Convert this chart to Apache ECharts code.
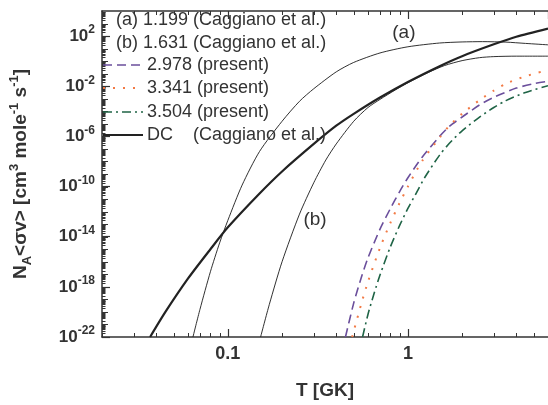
<!DOCTYPE html>
<html>
<head>
<meta charset="utf-8">
<script src="https://cdn.jsdelivr.net/npm/echarts@6/dist/echarts.min.js"></script>
<style>
  html, body { margin: 0; padding: 0; background: #fff; }
  #chart { width: 548px; height: 405px; }
</style>
</head>
<body>
<div id="chart"></div>
<script>
// Temperature T [GK] and reaction rate N_A<σv> [cm^3 mole^-1 s^-1] for each curve

// (a) resonance at 1.199 (Caggiano et al.)
const tempA = [0.064, 0.07, 0.08, 0.09, 0.1, 0.12, 0.15, 0.2, 0.25, 0.3, 0.4, 0.5, 0.7, 1.0, 1.5, 2.0, 2.6, 3.5, 4.5, 6.0];
const rateA = [1e-22, 1.6e-20, 1.6e-17, 3.2e-15, 2.0e-13, 1.3e-10, 6.3e-8, 1.6e-5, 6.3e-4, 6.3e-3, 0.14, 0.79, 4.5, 14, 28, 34, 36, 33, 26, 20];

// (b) resonance at 1.631 (Caggiano et al.)
const tempB = [0.152, 0.17, 0.2, 0.25, 0.3, 0.35, 0.4, 0.5, 0.6, 0.7, 0.85, 1.0, 1.3, 1.6, 2.0, 2.5, 3.0, 4.0, 6.0];
const rateB = [1e-22, 4.0e-20, 1.0e-16, 6.3e-13, 2.0e-10, 1.3e-8, 2.5e-7, 1.6e-5, 2.0e-4, 8.9e-4, 5.0e-3, 1.9e-2, 0.126, 0.45, 1.1, 1.9, 2.3, 2.5, 2.5];

// resonance at 2.978 (present)
const temp2978 = [0.45, 0.5, 0.55, 0.6, 0.7, 0.8, 0.9, 1.0, 1.2, 1.5, 1.7, 2.0, 2.5, 3.0, 4.0, 5.0, 6.0];
const rate2978 = [1e-22, 5.0e-20, 5.0e-18, 2.0e-16, 4.0e-14, 1.8e-12, 4.0e-11, 5.0e-10, 2.2e-8, 1.0e-6, 6.3e-6, 3.5e-5, 3.2e-4, 1.3e-3, 7.1e-3, 1.6e-2, 2.5e-2];

// resonance at 3.341 (present)
const temp3341 = [0.49, 0.55, 0.6, 0.7, 0.8, 0.9, 1.0, 1.2, 1.5, 1.7, 2.0, 2.5, 3.0, 3.5, 4.5, 6.0];
const rate3341 = [1e-22, 4.0e-20, 2.5e-18, 1.3e-15, 1.3e-13, 5.0e-12, 1.0e-10, 1.1e-8, 7.9e-7, 7.1e-6, 6.3e-5, 7.9e-4, 4.5e-3, 1.6e-2, 6.3e-2, 0.2];

// resonance at 3.504 (present)
const temp3504 = [0.56, 0.6, 0.65, 0.7, 0.8, 0.9, 1.0, 1.1, 1.25, 1.5, 1.7, 2.0, 2.5, 3.0, 3.5, 4.5, 6.0];
const rate3504 = [1e-22, 6.3e-21, 3.2e-19, 8.9e-18, 1.6e-15, 7.9e-14, 1.8e-12, 2.2e-11, 6.3e-10, 3.2e-8, 2.8e-7, 2.8e-6, 3.5e-5, 2.0e-4, 7.1e-4, 3.2e-3, 1.1e-2];

// direct capture (Caggiano et al.)
const tempDC = [0.037, 0.045, 0.06, 0.08, 0.1, 0.15, 0.2, 0.3, 0.4, 0.5, 0.7, 1.0, 1.5, 2.0, 3.0, 4.0, 6.0];
const rateDC = [1e-22, 1.0e-20, 4.5e-18, 1.0e-15, 5.6e-14, 2.8e-11, 1.6e-9, 2.5e-7, 7.1e-6, 6.3e-5, 1.26e-3, 2.2e-2, 0.4, 2.5, 22, 89, 400];

// legend rows
const legendLabels = [
  '(a) 1.199 (Caggiano et al.)',
  '(b) 1.631 (Caggiano et al.)',
  '2.978 (present)',
  '3.341 (present)',
  '3.504 (present)',
  'DC    (Caggiano et al.)'
];

// curve tags and where they sit (T, rate)
const tagText = ['(a)', '(b)'];
const tagTemp = [0.95, 0.305];
const tagRate = [190, 2.1e-13];

// axis tick labels shown
const xTickLabels = [0.1, 1];
const rateMin = 1e-22, rateMax = 1e4, rateLabelStep = 4; // decades between labelled ticks

const FONT = '"Liberation Sans", Arial, Helvetica, sans-serif';
const INK = '#333333';
const COL_P = '#6b4f9c';
const COL_O = '#f27a45';
const COL_G = '#1f6446';

// the rate axis is laid out in decades (log10 of the rate)
const pairs = (t, r) => t.map((v, i) => [v, Math.log10(r[i])]);

const chart = echarts.init(document.getElementById('chart'), null, { renderer: 'canvas' });

const baseLine = {
  type: 'line', showSymbol: false, symbol: 'none', smooth: 0.25,
  clip: true, animation: false, z: 3
};

const series = [
  Object.assign({}, baseLine, { name: legendLabels[0], data: pairs(tempA, rateA),
    lineStyle: { color: '#1a1a1a', width: 0.9 } }),
  Object.assign({}, baseLine, { name: legendLabels[1], data: pairs(tempB, rateB),
    lineStyle: { color: '#1a1a1a', width: 0.9 } }),
  Object.assign({}, baseLine, { name: legendLabels[2], data: pairs(temp2978, rate2978),
    lineStyle: { color: COL_P, width: 1.6, type: [9, 5] } }),
  Object.assign({}, baseLine, { name: legendLabels[3], data: pairs(temp3341, rate3341),
    lineStyle: { color: COL_O, width: 2, type: [2, 8] } }),
  Object.assign({}, baseLine, { name: legendLabels[4], data: pairs(temp3504, rate3504),
    lineStyle: { color: COL_G, width: 1.6, type: [9, 4, 2, 4] } }),
  Object.assign({}, baseLine, { name: legendLabels[5], data: pairs(tempDC, rateDC),
    lineStyle: { color: '#222222', width: 2.2 } })
];

chart.setOption({
  animation: false,
  backgroundColor: '#ffffff',
  grid: { left: 100, top: 11, right: 0, bottom: 62, containLabel: false },
  xAxis: [
    {
      type: 'log', min: 0.02, max: 6, position: 'bottom',
      name: 'T [GK]', nameLocation: 'middle', nameGap: 44,
      nameTextStyle: { fontSize: 19, fontWeight: 'bold', color: INK, fontFamily: FONT },
      axisLine: { show: true, onZero: false, lineStyle: { color: INK, width: 1.5 } },
      axisTick: { show: true, inside: true, length: 8, lineStyle: { color: INK, width: 1.2 } },
      splitLine: { show: false },
      axisLabel: {
        show: true, margin: 8, fontSize: 18, fontWeight: 'bold', color: INK, fontFamily: FONT,
        showMinLabel: false, showMaxLabel: false,
        formatter: v => {
          const hit = xTickLabels.find(t => Math.abs(Math.log10(v) - Math.log10(t)) < 1e-6);
          return hit === undefined ? '' : String(hit);
        }
      }
    },
    {
      type: 'log', min: 0.02, max: 6, position: 'top',
      axisLine: { show: true, onZero: false, lineStyle: { color: INK, width: 1.5 } },
      axisTick: { show: true, inside: true, length: 8, lineStyle: { color: INK, width: 1.2 } },
      axisLabel: { show: false },
      splitLine: { show: false }
    }
  ],
  yAxis: {
    type: 'value', min: Math.log10(rateMin), max: Math.log10(rateMax), interval: rateLabelStep,
    name: '{n|N}{sub|A}{n|<σv> [cm}{sup|3}{n| mole}{sup|-1}{n| s}{sup|-1}{n|]}',
    nameLocation: 'middle', nameGap: 68, nameRotate: 90,
    nameTextStyle: {
      rich: {
        n: { fontSize: 19, fontWeight: 'bold', color: INK, fontFamily: FONT, lineHeight: 26, verticalAlign: 'middle' },
        sub: { fontSize: 13, fontWeight: 'bold', color: INK, fontFamily: FONT, lineHeight: 13, verticalAlign: 'bottom' },
        sup: { fontSize: 13, fontWeight: 'bold', color: INK, fontFamily: FONT, lineHeight: 13, verticalAlign: 'top' }
      }
    },
    axisLine: { show: true, onZero: false, lineStyle: { color: INK, width: 1.5 } },
    axisTick: { show: true, inside: true, length: 8, lineStyle: { color: INK, width: 1.2 } },
    splitLine: { show: false },
    axisLabel: {
      show: true, margin: 7, showMaxLabel: false,
      formatter: v => '{b|10}{s|' + Math.round(v) + '}',
      rich: {
        b: { fontSize: 17, fontWeight: 'bold', color: INK, fontFamily: FONT, lineHeight: 24, verticalAlign: 'middle' },
        s: { fontSize: 12, fontWeight: 'bold', color: INK, fontFamily: FONT, lineHeight: 12, verticalAlign: 'top' }
      }
    }
  },
  series: series
});

// log-spaced minor ticks, curve tags and the legend
function buildDecorations() {
  const g = [];
  const px = v => chart.convertToPixel({ xAxisIndex: 0 }, v);
  const py = v => chart.convertToPixel({ yAxisIndex: 0 }, Math.log10(v));
  const yBottom = py(rateMin), yTop = py(rateMax), xLeft = px(0.02);
  const tickStyle = { stroke: INK, lineWidth: 1 };

  for (const dec of [0.01, 0.1, 1]) {
    for (let k = 2; k <= 9; k++) {
      const v = k * dec;
      if (v < 0.02 || v > 6.0001) continue;
      const x = Math.round(px(v)) + 0.5;
      g.push({ type: 'line', silent: true, z: 10, shape: { x1: x, y1: yBottom, x2: x, y2: yBottom - 4 }, style: tickStyle });
      g.push({ type: 'line', silent: true, z: 10, shape: { x1: x, y1: yTop, x2: x, y2: yTop + 4 }, style: tickStyle });
    }
  }
  for (let e = -22; e < 4; e++) {
    for (let k = 1; k <= 9; k++) {
      const y = Math.round(py(k * Math.pow(10, e))) + 0.5;
      const len = k === 1 ? 6 : 3.5;
      g.push({ type: 'line', silent: true, z: 10, shape: { x1: xLeft, y1: y, x2: xLeft + len, y2: y }, style: tickStyle });
    }
  }

  tagText.forEach((txt, i) => {
    g.push({ type: 'text', silent: true, z: 20, x: px(tagTemp[i]), y: py(tagRate[i]),
      style: { text: txt, fill: INK, font: '19px ' + FONT, verticalAlign: 'middle', align: 'center' } });
  });

  const rowY = [20, 43, 65, 88, 112, 135];
  const sample = [null, null,
    { stroke: COL_P, lineWidth: 1.6, lineDash: [9, 5] },
    { stroke: COL_O, lineWidth: 2, lineDash: [2, 8] },
    { stroke: COL_G, lineWidth: 1.6, lineDash: [9, 4, 2, 4] },
    { stroke: '#222222', lineWidth: 2.2 }];
  legendLabels.forEach((txt, i) => {
    const textX = sample[i] ? 147 : 116;
    if (sample[i]) {
      g.push({ type: 'line', silent: true, z: 20,
        shape: { x1: xLeft + 1, y1: rowY[i], x2: 143, y2: rowY[i] }, style: sample[i] });
    }
    g.push({ type: 'text', silent: true, z: 20, x: textX, y: rowY[i],
      style: { text: txt, fill: INK, font: '18px ' + FONT, verticalAlign: 'middle', align: 'left' } });
  });
  return g;
}

chart.setOption({ graphic: buildDecorations() });
</script>
</body>
</html>
